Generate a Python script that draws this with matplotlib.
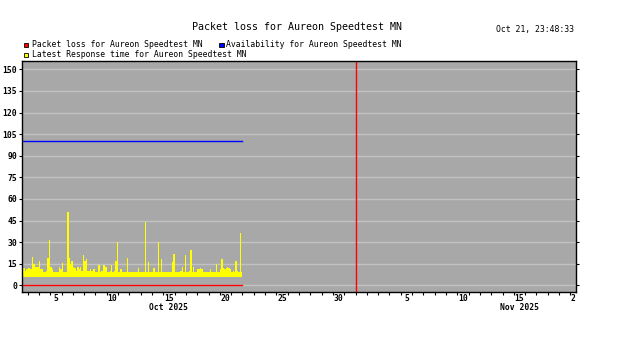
import numpy as np
from matplotlib import pyplot as plt
from matplotlib.patches import Rectangle

# time axis: days of October (Nov 1 = 32)
start_day = 2.5
step = 0.125  # 3 hour samples
resp_low = 6.0

# latest response time (upper value of each sample)
resp_high = [
    11, 12, 10, 11, 12, 12, 11, 20, 15, 13, 13, 13,
    17, 11, 11, 9, 9, 10, 19, 31.5, 13, 11, 9.5, 9.5,
    9.5, 9, 13, 11, 15.5, 9.5, 9, 9, 51, 19, 15, 17,
    13, 12, 10, 13, 11, 13, 10, 21, 17, 18, 10, 10,
    11, 10, 11, 11, 9, 9, 14, 9, 10, 14, 14, 13,
    9, 9, 10, 14, 9, 10, 17, 30, 9, 11, 11, 9,
    9.5, 9, 19, 9, 9, 9, 9, 9, 9, 9, 12, 9,
    9, 9, 9, 44, 9, 16, 9, 9, 9, 12, 9, 9,
    30, 9, 18, 9, 9, 9, 9, 9, 9, 9, 16, 22,
    9, 9, 9, 9, 10, 13, 9, 21, 9, 9, 10, 24.5,
    9, 13, 9, 9, 11, 11, 12, 11, 9, 9, 9, 9,
    9, 11, 9, 9, 9, 14.5, 9, 9, 11, 18.6, 12, 11,
    12, 13, 12, 11, 9, 10, 9, 17, 10, 9, 36.5, 9,
]
packet_loss = 0
availability = 100
data_end = 22.0
marker_day = 32  # Nov 1

y_ticks = [0, 15, 30, 45, 60, 75, 90, 105, 120, 135, 150]
x_label_pos = [5.5, 10.5, 15.5, 20.5, 25.5, 30.5, 36.5, 41.5, 46.5, 51.25]
x_label_txt = ['5', '10', '15', '20', '25', '30', '5', '10', '15', '2']
months = [(15.5, 'Oct 2025'), (46.5, 'Nov 2025')]

W, H = 626, 353
mono = 'DejaVu Sans Mono'

fig = plt.figure(figsize=(W / 100, H / 100), dpi=100)
fig.patch.set_facecolor('white')
ax = fig.add_axes([22 / W, 1 - 292 / H, 554 / W, 231 / H])
ax.set_facecolor('#a8a8a8')

t = start_day + step * np.arange(len(resp_high))
hi = np.array(resp_high, dtype=float)
ax.bar(t, hi - resp_low, bottom=resp_low, width=step, align='edge',
       color='#ffff00', linewidth=0, zorder=3)
ax.plot([start_day, data_end], [availability] * 2, color='#0000ff', lw=1, zorder=4)
ax.plot([start_day, data_end], [packet_loss] * 2, color='#ff0000', lw=1, zorder=4)
ax.axvline(marker_day, color='#ff0000', lw=1, zorder=4)

ax.set_xlim(2.5, 51.5)
ax.set_ylim(-4.65, 155.8)

ax.set_yticks(y_ticks)
ax.set_yticklabels([str(v) for v in y_ticks], fontfamily=mono, fontsize=5.8, fontweight='bold')
ax.yaxis.grid(True, color='#c2c2c2', lw=1, zorder=1)
ax.set_axisbelow(True)
ax.tick_params(axis='y', which='major', direction='out', length=2, width=0.8,
               pad=1.5, right=True, labelright=False)

ax.set_xticks(x_label_pos)
ax.set_xticklabels(x_label_txt, fontfamily=mono, fontsize=5.8, fontweight='bold')
ax.set_xticks(np.arange(3, 52), minor=True)
ax.tick_params(axis='x', which='major', length=0, pad=1.5)
ax.tick_params(axis='x', which='minor', direction='out', length=2, width=0.8)

for pos, txt in months:
    ax.text(pos, -0.069, txt, transform=ax.get_xaxis_transform(), ha='center', va='center',
            fontfamily=mono, fontsize=5.8, fontweight='bold')

for sp in ax.spines.values():
    sp.set_color('black')
    sp.set_linewidth(1)
    sp.set_zorder(5)

fig.text(297 / W, 1 - 27 / H, 'Packet loss for Aureon Speedtest MN', ha='center', va='center',
         fontfamily=mono, fontsize=7.2)
fig.text(574 / W, 1 - 29.3 / H, 'Oct 21, 23:48:33', ha='right', va='center',
         fontfamily=mono, fontsize=5.9)

legend_items = [
    (24, 42.7, '#ff0000', 'Packet loss for Aureon Speedtest MN'),
    (219, 42.7, '#0000ff', 'Availability for Aureon Speedtest MN'),
    (24, 52.7, '#ffff00', 'Latest Response time for Aureon Speedtest MN'),
]
for x, y, c, label in legend_items:
    fig.add_artist(Rectangle((x / W, 1 - (y + 4.5) / H), 4.5 / W, 4.5 / H,
                             transform=fig.transFigure, facecolor=c,
                             edgecolor='black', lw=0.6))
    fig.text((x + 7.5) / W, 1 - (y + 2) / H, label, ha='left', va='center',
             fontfamily=mono, fontsize=5.9)

fig.savefig('out.png', dpi=100, facecolor='white')
